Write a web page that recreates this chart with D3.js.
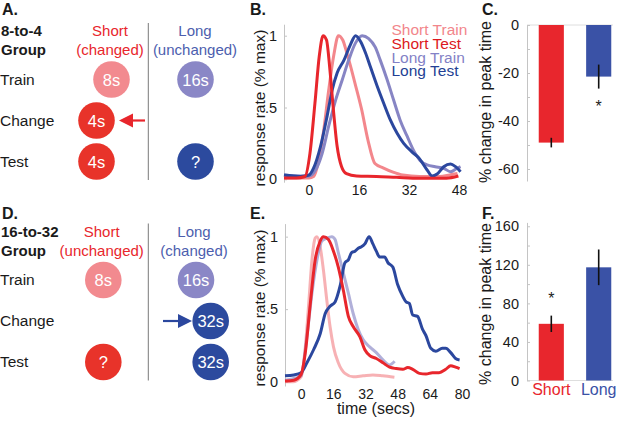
<!DOCTYPE html>
<html>
<head>
<meta charset="utf-8">
<script src="https://cdn.jsdelivr.net/npm/d3@7"></script>
<style>
body { margin: 0; background: #fff; }
svg { display: block; font-family: "Liberation Sans", Arial, sans-serif; }
</style>
</head>
<body>
<svg width="617" height="434"></svg>
<script>
// ---- values ----
// response curves: [time (s), response rate (fraction of max)]
var bShortTrain = [[-8,0.01],[-4,0.01],[0,0.01],[1.5,0.02],[3.1,0.13],[4.7,0.34],[6.3,0.62],[7.9,0.86],[9.4,1.0],[10.8,0.97],[12.1,0.88],[13.4,0.78],[14.7,0.67],[16.8,0.49],[18.9,0.27],[21.1,0.11],[23.7,0.08],[26.9,0.05],[30,0.03],[35.4,0.02],[41.8,0.02],[45,0.03],[47.5,0.04]];
var bShortTest = [[-8,0.01],[-4,0.01],[-1.3,0.02],[0.3,0.18],[1.9,0.53],[3.3,0.86],[4.5,1.0],[5.6,0.97],[6.7,0.76],[7.7,0.51],[9,0.23],[10.4,0.09],[12,0.04],[15.2,0.023],[21.6,0.02],[28,0.014],[35.4,0.008],[44,0.008],[47.8,0.023]];
var bLongTrain = [[-8,0.03],[-2.7,0.023],[0,0.023],[2.1,0.065],[4.2,0.18],[6.3,0.37],[8.5,0.55],[10.6,0.69],[12.7,0.83],[14.9,0.95],[17,1.0],[19.1,0.98],[21.2,0.92],[22.8,0.83],[24.9,0.7],[27.1,0.55],[29.2,0.41],[31.4,0.3],[33.5,0.2],[35.6,0.13],[37.8,0.1],[40.4,0.088],[43.1,0.077],[45.3,0.053],[47.4,0.077],[48.5,0.088]];
var bLongTest = [[-8,0.03],[-2.7,0.02],[0,0.03],[1.5,0.08],[3.7,0.23],[5.8,0.44],[7.4,0.62],[9,0.74],[11.2,0.83],[13.3,0.94],[14.9,1.0],[16.5,0.96],[18.1,0.88],[19.7,0.78],[21.8,0.65],[23.9,0.53],[26.1,0.41],[28.2,0.32],[30.3,0.25],[33,0.19],[35.1,0.15],[37.8,0.065],[39.4,0.023],[41,0.037],[43.1,0.088],[45.3,0.107],[46.9,0.088],[48.5,0.053]];

var eShortTrain = [[-8,0.0],[-4,0.0],[0,0.034],[2.1,0.24],[3.8,0.54],[5.4,0.84],[7,0.99],[7.9,1.0],[9.5,0.93],[11.1,0.77],[12.8,0.56],[14.4,0.38],[16.1,0.24],[18.5,0.13],[21.8,0.057],[25.9,0.034],[30.8,0.04],[35.7,0.046],[40.6,0.04],[46.4,0.03]];
var eShortTest = [[-8,0.005],[-3.6,0.01],[0,0.05],[2.1,0.2],[4.6,0.54],[7,0.84],[9.5,0.97],[11.1,1.0],[13.6,0.98],[16.1,0.9],[18.5,0.79],[21,0.63],[23.5,0.45],[25.9,0.38],[29.2,0.31],[31.7,0.22],[34.1,0.18],[37.4,0.16],[40.7,0.13],[44,0.1],[47.3,0.09],[50.6,0.085],[53,0.097],[55.5,0.085],[58.8,0.057],[62.1,0.053],[65.3,0.062],[68.6,0.062],[71.9,0.085],[74.4,0.11],[76.8,0.1],[78.8,0.09]];
var eLongTrain = [[-8,0.01],[-4,0.02],[0,0.04],[2.9,0.31],[5.4,0.61],[7.9,0.84],[10.3,0.97],[12.8,0.99],[15.3,1.0],[16.9,0.98],[18.5,0.89],[21,0.75],[23.5,0.61],[25.9,0.47],[28.4,0.36],[30.8,0.29],[34.1,0.24],[37.4,0.2],[40.7,0.15],[44,0.115],[46.5,0.14]];
var eLongTest = [[-8,0.04],[-3.6,0.046],[0,0.062],[2.9,0.13],[6.2,0.22],[9.5,0.33],[12,0.47],[14.4,0.52],[16.9,0.55],[19.4,0.66],[21.8,0.82],[23.5,0.84],[25.1,0.89],[26.8,0.9],[28.4,0.92],[30,0.93],[31.7,0.95],[33.8,1.0],[35.7,0.95],[37.4,0.9],[39,0.86],[41.5,0.86],[43.2,0.82],[45.6,0.79],[48,0.67],[50.5,0.59],[52.2,0.55],[53.8,0.54],[55.5,0.46],[57.9,0.45],[60.4,0.36],[62,0.32],[64.5,0.23],[67,0.21],[70.2,0.23],[71.9,0.23],[74.4,0.2],[76.8,0.16],[78.8,0.15]];

var seriesNames = ["Short Train", "Short Test", "Long Train", "Long Test"];

// % change in peak time (mean, sem)
var barGroups = ["Short", "Long"];
var cMeans = [-49, -21.5];
var cErrs = [2, 5];
var fMeans = [58.8, 117.4];
var fErrs = [8.5, 18.5];
var cSignif = [false, true];
var fSignif = [true, false];

var bTicks = [0, 16, 32, 48];
var eTicks = [0, 16, 32, 48, 64, 80];
var rateTicks = [0, 0.5, 1];
var cTicks = [0, -10, -20, -30, -40, -50, -60];
var fTicks = [0, 20, 40, 60, 80, 100, 120, 140, 160];

// schematic panels
var rowNames = ["Train", "Change", "Test"];
var aCells = [
  {row: 0, col: "short", label: "8s", kind: "shortTrain"},
  {row: 0, col: "long", label: "16s", kind: "longTrain"},
  {row: 1, col: "short", label: "4s", kind: "red"},
  {row: 2, col: "short", label: "4s", kind: "red"},
  {row: 2, col: "long", label: "?", kind: "blue"}
];
var dCells = [
  {row: 0, col: "short", label: "8s", kind: "shortTrain"},
  {row: 0, col: "long", label: "16s", kind: "longTrain"},
  {row: 1, col: "long", label: "32s", kind: "blue"},
  {row: 2, col: "short", label: "?", kind: "red"},
  {row: 2, col: "long", label: "32s", kind: "blue"}
];

// ---- styles ----
var pink = "#f3878c", red = "#e8262c", lav = "#8785c4", blue = "#2b479e";
var circleFill = {shortTrain: "#f28a8f", longTrain: "#8a87c6", red: "#e8332a", blue: "#2c4a9e"};
var legendColors = ["#f2868b", "#dc1820", "#8381c6", "#233f94"];
var axisGray = "#c4c4c4", textCol = "#1a1a1a";

var svg = d3.select("svg");
svg.append("rect").attr("width", 617).attr("height", 434).attr("fill", "#fff");

function panelLabel(t, x, y) {
  svg.append("text").attr("x", x).attr("y", y).attr("font-size", 16)
    .attr("font-weight", "bold").attr("fill", textCol).text(t);
}
panelLabel("A.", 2, 15);
panelLabel("B.", 250, 15);
panelLabel("C.", 482, 15);
panelLabel("D.", 2, 219);
panelLabel("E.", 250, 219);
panelLabel("F.", 482, 219);

// ---- schematic (A, D) ----
function schematic(dy, groupName, shortSub, longSub, cells, opts) {
  var g = svg.append("g").attr("transform", "translate(0," + dy + ")");
  var rowY = d3.scalePoint().domain(d3.range(rowNames.length)).range([79.5, 161.5]);

  g.append("text").attr("x", 1).attr("y", 36).attr("font-size", 15).attr("font-weight", "bold")
    .attr("fill", textCol).text(groupName);
  g.append("text").attr("x", 1).attr("y", 55).attr("font-size", 15).attr("font-weight", "bold")
    .attr("fill", textCol).text("Group");

  [["Short", shortSub, opts.shortHead, red], ["Long", longSub, opts.longHead, "#4c5eae"]].forEach(function(h) {
    g.append("text").attr("x", h[2]).attr("y", 36).attr("text-anchor", "middle")
      .attr("font-size", 15).attr("fill", h[3]).text(h[0]);
    g.append("text").attr("x", h[2]).attr("y", 55).attr("text-anchor", "middle")
      .attr("font-size", 15).attr("fill", h[3]).text(h[1]);
  });

  g.append("line").attr("x1", 148.3).attr("x2", 148.3).attr("y1", 23).attr("y2", 180)
    .attr("stroke", "#7a7a7a").attr("stroke-width", 1);

  g.selectAll(".rowname").data(rowNames).enter().append("text")
    .attr("x", 0).attr("y", function(d, i) { return rowY(i) + 5; })
    .attr("font-size", 15.5).attr("fill", textCol).text(function(d) { return d; });

  var cell = g.selectAll(".cell").data(cells).enter().append("g")
    .attr("transform", function(d) { return "translate(" + opts.cellX(d) + "," + rowY(d.row) + ")"; });
  cell.append("circle").attr("r", 18.3).attr("fill", function(d) { return circleFill[d.kind]; });
  cell.append("text").attr("text-anchor", "middle").attr("y", 6).attr("font-size", 16.5)
    .attr("fill", "#fff").text(function(d) { return d.label; });

  var a = opts.arrow, y = rowY(a.row);
  var dir = a.tip > a.tail ? 1 : -1;
  g.append("line").attr("x1", a.tail).attr("x2", a.tip - dir * 10).attr("y1", y).attr("y2", y)
    .attr("stroke", a.color).attr("stroke-width", 2.2);
  g.append("path")
    .attr("d", "M" + a.tip + "," + y + "L" + (a.tip - dir * 14) + "," + (y - 7) + "L" + (a.tip - dir * 14) + "," + (y + 7) + "Z")
    .attr("fill", a.color);
}

schematic(0, "8-to-4", "(changed)", "(unchanged)", aCells, {
  shortHead: 110, longHead: 195,
  cellX: function(d) { return d.col === "long" ? 195.5 : (d.row === 0 ? 111.5 : 96.5); },
  arrow: {row: 1, tail: 145, tip: 119, color: red}
});
schematic(200.5, "16-to-32", "(unchanged)", "(changed)", dCells, {
  shortHead: 101.7, longHead: 194,
  cellX: function(d) { return d.col === "short" ? 103.3 : (d.row === 0 ? 196 : 210.7); },
  arrow: {row: 1, tail: 163, tip: 192, color: blue}
});

// ---- response curves (B, E) ----
function curvePanel(x, y, ticksX, series, yTitleCenter) {
  var g = svg.append("g");
  var ax = g.append("g").attr("transform", "translate(" + x.range()[0] + ",0)")
    .call(d3.axisLeft(y).tickValues(rateTicks).tickSize(-3).tickSizeOuter(0).tickPadding(7)
      .tickFormat(function(d) { return d === 0 ? "0" : d === 1 ? "1" : ".5"; }));
  ax.attr("color", axisGray);
  ax.selectAll("text").attr("fill", textCol).attr("font-size", 14.5).attr("font-family", null);

  var bx = g.append("g").attr("transform", "translate(0," + (y.range()[0] + 1) + ")")
    .call(d3.axisBottom(x).tickValues(ticksX).tickSize(0).tickPadding(2));
  bx.select(".domain").remove();
  bx.selectAll("text").attr("fill", textCol).attr("font-size", 14).attr("font-family", null);

  var line = d3.line().x(function(d) { return x(d[0]); }).y(function(d) { return y(d[1]); })
    .curve(d3.curveMonotoneX);
  series.forEach(function(s) {
    g.append("path").datum(s.data).attr("d", line).attr("fill", "none")
      .attr("stroke", s.color).attr("stroke-width", 3).attr("stroke-linejoin", "round")
      .attr("stroke-opacity", s.opacity || 1);
  });

  g.append("text").attr("transform", "translate(265," + yTitleCenter + ") rotate(-90)")
    .attr("text-anchor", "middle").attr("font-size", 15.5).attr("fill", textCol)
    .text("response rate (% max)");
}

var xB = d3.scaleLinear().domain([-8, 48]).range([284, 459]);
var yB = d3.scaleLinear().domain([-0.02, 1.08]).range([182.2, 24.2]);
curvePanel(xB, yB, bTicks, [
  {data: bShortTrain, color: pink},
  {data: bLongTrain, color: lav},
  {data: bLongTest, color: blue},
  {data: bShortTest, color: red}
], 108);

svg.selectAll(".legend").data(seriesNames).enter().append("text")
  .attr("x", 391.5).attr("y", function(d, i) { return 35 + i * 13.8; })
  .attr("font-size", 15.5).attr("fill", function(d, i) { return legendColors[i]; })
  .text(function(d) { return d; });

var xE = d3.scaleLinear().domain([-8, 80]).range([285, 462]);
var yE = d3.scaleLinear().domain([-0.03, 1.09]).range([386, 223.6]);
curvePanel(xE, yE, eTicks, [
  {data: eShortTrain, color: pink, opacity: 0.65},
  {data: eLongTrain, color: lav, opacity: 0.65},
  {data: eLongTest, color: blue},
  {data: eShortTest, color: red}
], 308);

svg.append("text").attr("x", 376).attr("y", 414).attr("text-anchor", "middle")
  .attr("font-size", 16).attr("fill", textCol).text("time (secs)");

// ---- bar panels (C, F) ----
var xBar = d3.scaleBand().domain(barGroups).range([534, 616]).paddingInner(0.47).paddingOuter(0.1);
var barColors = ["#e8262d", "#3a52a6"];

function barPanel(y, ticks, labelEvery, means, errs, signif, titleCenter) {
  var g = svg.append("g");
  g.append("line").attr("x1", 527).attr("x2", 613).attr("y1", y(0)).attr("y2", y(0))
    .attr("stroke", "#dedede");

  var ax = g.append("g").attr("transform", "translate(527,0)")
    .call(d3.axisLeft(y).tickValues(ticks).tickSize(-3).tickSizeOuter(0).tickPadding(8)
      .tickFormat(function(d) { return d % labelEvery === 0 ? String(d) : ""; }));
  ax.attr("color", axisGray);
  ax.selectAll("text").attr("fill", textCol).attr("font-size", 14.5).attr("font-family", null);

  var k = function(d) { return barGroups.indexOf(d); };
  var mid = function(d) { return xBar(d) + xBar.bandwidth() / 2; };
  var bars = g.selectAll(".bar").data(barGroups).enter().append("g");
  bars.append("rect")
    .attr("x", function(d) { return xBar(d); })
    .attr("width", xBar.bandwidth())
    .attr("y", function(d) { return Math.min(y(0), y(means[k(d)])); })
    .attr("height", function(d) { return Math.abs(y(means[k(d)]) - y(0)); })
    .attr("fill", function(d) { return barColors[k(d)]; });
  bars.append("line")
    .attr("x1", mid).attr("x2", mid)
    .attr("y1", function(d) { return y(means[k(d)] - errs[k(d)]); })
    .attr("y2", function(d) { return y(means[k(d)] + errs[k(d)]); })
    .attr("stroke", "#111").attr("stroke-width", 1.6);
  bars.filter(function(d) { return signif[k(d)]; }).append("text")
    .attr("x", mid)
    .attr("y", function(d) {
      var m = means[k(d)], e = errs[k(d)];
      return m < 0 ? y(m - e) + 23 : y(m + e) - 12;
    })
    .attr("text-anchor", "middle").attr("font-size", 16).attr("fill", textCol).text("*");

  g.append("text").attr("transform", "translate(491," + titleCenter + ") rotate(-90)")
    .attr("text-anchor", "middle").attr("font-size", 16).attr("fill", textCol)
    .text("% change in peak time");
}

var yC = d3.scaleLinear().domain([0, -65]).range([25, 181]);
barPanel(yC, cTicks, 20, cMeans, cErrs, cSignif, 102);

var yF = d3.scaleLinear().domain([0, 164]).range([380.5, 222.4]);
barPanel(yF, fTicks, 40, fMeans, fErrs, fSignif, 304);

svg.selectAll(".grp").data(barGroups).enter().append("text")
  .attr("x", function(d) { return xBar(d) + xBar.bandwidth() / 2; })
  .attr("y", 394.5).attr("text-anchor", "middle").attr("font-size", 16)
  .attr("fill", function(d, i) { return barColors[i]; })
  .text(function(d) { return d; });
</script>
</body>
</html>
